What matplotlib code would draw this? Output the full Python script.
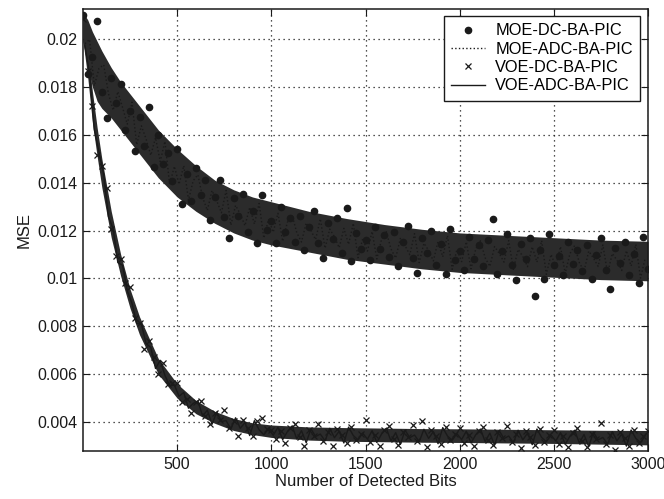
import numpy as np
import matplotlib
matplotlib.use('Agg')
import matplotlib.pyplot as plt

SCALE = 1e-5

# detected-bit positions of the sampled points
dc_bits = np.arange(0, 3001, 25)    # 121 samples for the DC (marker) curves
adc_bits = np.arange(10, 3000, 25)  # 120 samples for the ADC (line) curves

moe_dc = [
    2100, 1855, 1925, 2075, 1780, 1670, 1835, 1733, 1811, 1618, 1701, 1532,
    1675, 1554, 1715, 1466, 1597, 1478, 1524, 1405, 1539, 1312, 1438, 1324,
    1463, 1349, 1411, 1244, 1342, 1409, 1256, 1169, 1335, 1261, 1353, 1192,
    1283, 1146, 1350, 1202, 1241, 1148, 1297, 1193, 1254, 1151, 1262, 1118,
    1215, 1281, 1148, 1084, 1230, 1166, 1252, 1108, 1295, 1071, 1188, 1124,
    1160, 1078, 1215, 1123, 1180, 1088, 1195, 1053, 1150, 1218, 1085, 1023,
    1170, 1108, 1196, 1054, 1142, 1020, 1208, 1077, 1115, 1034, 1173, 1082,
    1141, 1050, 1159, 1248, 1017, 1116, 1185, 1054, 993, 1142, 1081, 1170,
    925, 1118, 997, 1186, 1055, 1094, 1013, 1152, 1061, 1120, 1029, 1139,
    998, 1098, 1168, 1037, 956, 1126, 1065, 1154, 1013, 1102, 981, 1171,
    1040,
]

moe_adc = [
    1980, 1998, 1804, 1877, 1892, 1772, 1702, 1780, 1714, 1644, 1736, 1558,
    1637, 1582, 1514, 1588, 1488, 1572, 1392, 1468, 1393, 1471, 1327, 1408,
    1433, 1338, 1284, 1367, 1324, 1274, 1368, 1222, 1305, 1269, 1220, 1297,
    1227, 1313, 1168, 1247, 1193, 1272, 1155, 1234, 1265, 1191, 1152, 1232,
    1200, 1162, 1249, 1126, 1206, 1174, 1128, 1209, 1142, 1230, 1086, 1166,
    1114, 1196, 1081, 1163, 1195, 1123, 1085, 1167, 1136, 1099, 1187, 1066,
    1147, 1117, 1073, 1155, 1090, 1179, 1038, 1120, 1070, 1153, 1040, 1123,
    1157, 1086, 1050, 1133, 1104, 1068, 1158, 1038, 1121, 1092, 1049, 1132,
    1068, 1158, 1017, 1100, 1050, 1133, 1020, 1103, 1137, 1066, 1030, 1114,
    1085, 1050, 1140, 1021, 1104, 1076, 1033, 1116, 1052, 1142, 1001, 1085,
]

voe_dc = [
    2085, 1864, 1721, 1516, 1470, 1379, 1207, 1092, 1079, 980, 965, 835,
    815, 705, 740, 670, 600, 645, 560, 565, 562, 483, 497, 437,
    485, 490, 427, 394, 439, 408, 450, 376, 406, 342, 409, 377,
    342, 405, 418, 372, 369, 331, 361, 314, 375, 391, 337, 300,
    366, 342, 392, 323, 360, 300, 372, 345, 313, 380, 326, 352,
    410, 316, 348, 302, 365, 383, 329, 306, 360, 337, 387, 320,
    405, 297, 369, 342, 310, 378, 324, 351, 374, 314, 346, 301,
    362, 380, 326, 303, 357, 334, 383, 316, 352, 292, 364, 337,
    305, 372, 318, 345, 368, 308, 340, 295, 356, 374, 320, 298,
    351, 328, 396, 310, 346, 285, 359, 332, 300, 368, 314, 341,
    363,
]

voe_adc = [
    1974, 1853, 1621, 1527, 1434, 1258, 1207, 1066, 1055, 949, 896, 812,
    810, 727, 712, 624, 658, 595, 552, 555, 508, 524, 458, 478,
    489, 425, 450, 391, 442, 403, 406, 371, 418, 374, 398, 344,
    406, 368, 347, 372, 345, 378, 327, 360, 384, 330, 364, 314,
    372, 340, 350, 322, 374, 335, 362, 313, 379, 344, 326, 354,
    329, 364, 315, 350, 374, 322, 356, 307, 366, 335, 346, 318,
    370, 332, 360, 310, 377, 342, 324, 352, 327, 362, 313, 347,
    371, 319, 354, 304, 364, 331, 342, 314, 366, 326, 354, 306,
    371, 336, 318, 346, 321, 356, 307, 341, 366, 313, 348, 298,
    358, 326, 336, 308, 360, 322, 350, 300, 367, 332, 315, 343,
]

# dense core of each point cloud (upper / lower edge)
env_bits = [0, 25, 50, 75, 100, 150, 200, 250, 300, 400, 500, 600, 700,
            800, 900, 1000, 1200, 1400, 1600, 1800, 2000, 2250, 2500, 2750, 3000]
moe_upper = [2110, 2080, 2030, 1990, 1950, 1880, 1820, 1770, 1720, 1620, 1540,
             1470, 1410, 1370, 1340, 1320, 1280, 1250, 1225, 1205, 1190, 1180,
             1170, 1160, 1155]
moe_lower = [1990, 1880, 1800, 1740, 1710, 1670, 1620, 1570, 1520, 1420, 1340,
             1280, 1230, 1190, 1160, 1140, 1110, 1080, 1060, 1040, 1025, 1015,
             1005, 995, 990]
voe_upper = [2100, 1960, 1780, 1630, 1500, 1280, 1100, 955, 840, 665, 560,
             490, 445, 415, 397, 388, 380, 377, 375, 373, 372, 370, 368, 366, 365]
voe_lower = [1990, 1840, 1650, 1510, 1380, 1170, 1010, 875, 765, 600, 500,
             435, 395, 365, 348, 336, 325, 320, 318, 316, 315, 313, 311, 308, 305]

x_ticks = [500, 1000, 1500, 2000, 2500, 3000]
y_ticks = [0.004, 0.006, 0.008, 0.01, 0.012, 0.014, 0.016, 0.018, 0.02]

plt.rcParams['font.family'] = ['Liberation Sans', 'DejaVu Sans']

ink = '#1a1a1a'
cloud = '#2b2b2b'

fig = plt.figure(figsize=(6.64, 4.99), dpi=100)
ax = fig.add_axes([0.125, 0.096, 0.851, 0.886])

# dark clouds formed by the thousands of overlapping samples
ax.fill_between(env_bits, np.array(moe_lower) * SCALE, np.array(moe_upper) * SCALE,
                color=cloud, linewidth=0, zorder=2)
ax.fill_between(env_bits, np.array(voe_lower) * SCALE, np.array(voe_upper) * SCALE,
                color=cloud, linewidth=0, zorder=2)

ax.plot(dc_bits, np.array(moe_dc) * SCALE, linestyle='none', marker='.',
        markersize=9, color=ink, label='MOE-DC-BA-PIC', zorder=3)
ax.plot(adc_bits, np.array(moe_adc) * SCALE, linestyle=':', linewidth=1.0,
        color=ink, label='MOE-ADC-BA-PIC', zorder=3)
ax.plot(dc_bits, np.array(voe_dc) * SCALE, linestyle='none', marker='x',
        markersize=5, markeredgewidth=0.9, color=ink, label='VOE-DC-BA-PIC', zorder=3)
ax.plot(adc_bits, np.array(voe_adc) * SCALE, linestyle='-', linewidth=1.0,
        color=ink, label='VOE-ADC-BA-PIC', zorder=3)

ax.set_xlim(0, 3000)
ax.set_ylim(0.00279, 0.02125)
ax.set_xticks(x_ticks)
ax.set_yticks(y_ticks)
ax.set_yticklabels(['%g' % v for v in y_ticks])
ax.grid(True, linestyle=(0, (1, 3)), color=ink, linewidth=0.9)
ax.set_axisbelow(True)
ax.tick_params(direction='in', top=True, right=True, length=5,
               labelsize=11.5, colors=ink, pad=4)
for s in ax.spines.values():
    s.set_linewidth(1.1)
    s.set_color(ink)
    s.set_zorder(4)

ax.set_xlabel('Number of Detected Bits', fontsize=12, color=ink, labelpad=2)
ax.set_ylabel('MSE', fontsize=12, color=ink, labelpad=4)

leg = ax.legend(loc='upper right', bbox_to_anchor=(0.986, 0.984), fontsize=11.8,
                fancybox=False, framealpha=1, edgecolor=ink,
                labelspacing=0.2, handlelength=2.1, handletextpad=0.6,
                borderpad=0.45, borderaxespad=0)
leg.get_frame().set_linewidth(1.0)
leg.set_zorder(5)

fig.savefig('out.png', dpi=100)
